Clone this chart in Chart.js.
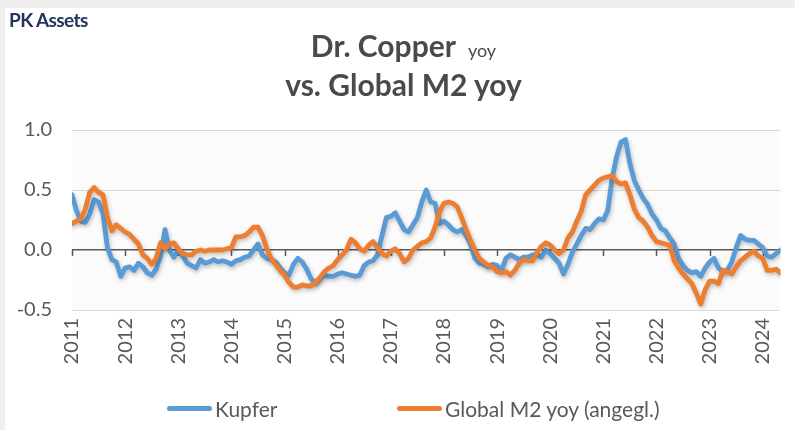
<!DOCTYPE html>
<html>
<head>
<meta charset="utf-8">
<script src="https://cdn.jsdelivr.net/npm/chart.js@4.4.1/dist/chart.umd.min.js"></script>
<style>
  html, body { margin: 0; padding: 0; background: #efefef; }
  #wrap { position: relative; width: 795px; height: 430px; overflow: hidden; background: #efefef; }
  #panel { position: absolute; left: 5px; top: 8px; right: 0; bottom: 0; background: #ffffff; }
  #chart { position: absolute; left: 0; top: 0; }
  #brand { position: absolute; left: 9px; top: 8px; font: bold 19px Lato, sans-serif; color: #25345f; letter-spacing: -0.6px; }
  .title { position: absolute; left: 6px; width: 795px; text-align: center; font: bold 30px Lato, sans-serif; color: #4a4a4a; line-height: 1.2; }
  #t1 { top: 27px; }
  #t2 { top: 66px; }
  .small { font-weight: normal; font-size: 18px; margin-left: 12px; }
  #legend { position: absolute; top: 395px; left: 0; height: 26px; font: 21px Lato, sans-serif; color: #595959; }
  .item { position: absolute; top: 0; height: 26px; display: flex; align-items: center; white-space: nowrap; }
  .bar { display: inline-block; width: 45px; height: 5px; border-radius: 3px; margin-right: 3px; }
</style>
</head>
<body>
<div id="wrap">
  <div id="panel"></div>
  <canvas id="chart" width="795" height="430"></canvas>
  <div id="brand">PK Assets</div>
  <div class="title" id="t1">Dr. Copper<span class="small">yoy</span></div>
  <div class="title" id="t2">vs. Global M2 yoy</div>
  <div id="legend"></div>
</div>
<script>
// monthly values, Jan 2011 .. May 2024
const yearLabels = ['2011', '2012', '2013', '2014', '2015', '2016', '2017',
  '2018', '2019', '2020', '2021', '2022', '2023', '2024'];

const kupfer = [
  0.46, 0.33, 0.24, 0.23, 0.30, 0.42, 0.40, 0.30, 0.02, -0.08, -0.10, -0.22,
  -0.15, -0.14, -0.17, -0.11, -0.14, -0.19, -0.21, -0.16, -0.05, 0.17, 0.00, -0.06,
  0.00, -0.05, -0.11, -0.13, -0.15, -0.08, -0.11, -0.10, -0.08, -0.10, -0.09, -0.10,
  -0.12, -0.09, -0.08, -0.06, -0.05, 0.00, 0.05, -0.04, -0.07, -0.08, -0.10, -0.15,
  -0.19, -0.21, -0.12, -0.07, -0.10, -0.16, -0.24, -0.28, -0.24, -0.21, -0.22, -0.22,
  -0.20, -0.19, -0.20, -0.21, -0.22, -0.21, -0.13, -0.10, -0.09, -0.04, 0.12, 0.27,
  0.28, 0.31, 0.24, 0.17, 0.15, 0.21, 0.27, 0.40, 0.50, 0.40, 0.39, 0.22,
  0.24, 0.21, 0.17, 0.15, 0.17, 0.12, 0.05, -0.07, -0.11, -0.12, -0.14, -0.12,
  -0.13, -0.17, -0.07, -0.04, -0.06, -0.08, -0.06, -0.06, -0.04, -0.04, -0.06, 0.00,
  -0.03, -0.07, -0.11, -0.20, -0.12, -0.02, 0.05, 0.12, 0.18, 0.17, 0.22, 0.26,
  0.25, 0.33, 0.60, 0.78, 0.90, 0.92, 0.72, 0.58, 0.50, 0.43, 0.38, 0.30,
  0.25, 0.18, 0.16, 0.10, 0.05, -0.07, -0.13, -0.17, -0.19, -0.18, -0.22, -0.15,
  -0.10, -0.07, -0.15, -0.18, -0.17, -0.10, 0.02, 0.12, 0.09, 0.08, 0.08, 0.05,
  0.02, -0.05, -0.06, -0.03, 0.00
];

const globalM2 = [
  0.22, 0.24, 0.26, 0.34, 0.48, 0.52, 0.48, 0.46, 0.27, 0.16, 0.21, 0.18,
  0.15, 0.13, 0.09, 0.05, -0.04, -0.07, -0.12, -0.07, 0.06, 0.01, 0.05, 0.06,
  0.01, -0.03, -0.04, -0.04, -0.01, 0.00, -0.01, 0.00, 0.00, 0.00, 0.00, 0.01,
  0.02, 0.11, 0.11, 0.12, 0.15, 0.19, 0.19, 0.12, 0.01, -0.07, -0.12, -0.17,
  -0.21, -0.27, -0.31, -0.31, -0.29, -0.30, -0.30, -0.27, -0.23, -0.18, -0.15, -0.13,
  -0.08, -0.04, 0.00, 0.09, 0.06, 0.01, -0.01, 0.04, 0.07, 0.02, -0.03, -0.05,
  -0.01, 0.01, -0.03, -0.10, -0.07, 0.00, 0.03, 0.06, 0.07, 0.10, 0.19, 0.32,
  0.39, 0.40, 0.39, 0.36, 0.27, 0.17, 0.08, 0.00, -0.07, -0.10, -0.13, -0.14,
  -0.18, -0.19, -0.18, -0.21, -0.17, -0.11, -0.08, -0.09, -0.09, -0.02, 0.03, 0.06,
  0.04, 0.00, -0.03, 0.00, 0.10, 0.15, 0.24, 0.32, 0.46, 0.50, 0.54, 0.58,
  0.60, 0.61, 0.62, 0.57, 0.55, 0.56, 0.46, 0.34, 0.27, 0.24, 0.19, 0.12,
  0.07, 0.06, 0.05, 0.04, -0.09, -0.15, -0.20, -0.24, -0.28, -0.36, -0.45, -0.33,
  -0.26, -0.26, -0.28, -0.17, -0.18, -0.20, -0.14, -0.09, -0.06, -0.03, -0.01, -0.05,
  -0.07, -0.17, -0.17, -0.16, -0.19
];

const seriesNames = ['Kupfer', 'Global M2 yoy (angegl.)'];
const seriesColors = ['#5b9bd5', '#ed7d31'];

const textColor = '#595959';
Chart.defaults.font.family = 'Lato, sans-serif';
Chart.defaults.color = textColor;

// light fill behind the plot area
const plotBg = {
  id: 'plotBg',
  beforeDraw(chart) {
    const { ctx, chartArea: a } = chart;
    ctx.save();
    ctx.fillStyle = '#fbfbfb';
    ctx.fillRect(a.left, a.top, a.right - a.left, a.bottom - a.top);
    ctx.restore();
  }
};

// small tick marks hanging off the zero line
const zeroTicks = {
  id: 'zeroTicks',
  beforeDatasetsDraw(chart) {
    const { ctx, scales: { x, y } } = chart;
    const y0 = y.getPixelForValue(0);
    ctx.save();
    ctx.strokeStyle = textColor;
    ctx.lineWidth = 1.5;
    x.ticks.forEach(t => {
      const px = Math.round(x.getPixelForValue(t.value)) + 0.5;
      ctx.beginPath();
      ctx.moveTo(px, y0);
      ctx.lineTo(px, y0 + 6);
      ctx.stroke();
    });
    ctx.restore();
  }
};

// soft shadow under the lines
const lineShadow = {
  id: 'lineShadow',
  beforeDatasetDraw(chart) {
    const ctx = chart.ctx;
    ctx.save();
    ctx.shadowColor = 'rgba(0,0,0,0.25)';
    ctx.shadowBlur = 4;
    ctx.shadowOffsetX = 1;
    ctx.shadowOffsetY = 2;
  },
  afterDatasetDraw(chart) {
    chart.ctx.restore();
  }
};

const toPoints = arr => arr.map((v, i) => ({ x: i, y: v }));

new Chart(document.getElementById('chart'), {
  type: 'line',
  data: {
    datasets: [
      {
        label: seriesNames[0],
        data: toPoints(kupfer),
        borderColor: seriesColors[0],
        backgroundColor: seriesColors[0],
        borderWidth: 4.8,
        pointRadius: 0,
        tension: 0,
        borderJoinStyle: 'round',
        borderCapStyle: 'round',
        order: 1
      },
      {
        label: seriesNames[1],
        data: toPoints(globalM2),
        borderColor: seriesColors[1],
        backgroundColor: seriesColors[1],
        borderWidth: 4.8,
        pointRadius: 0,
        tension: 0,
        borderJoinStyle: 'round',
        borderCapStyle: 'round',
        order: 0
      }
    ]
  },
  options: {
    responsive: false,
    animation: false,
    devicePixelRatio: 1,
    layout: { padding: { top: 130, right: 10, bottom: 50, left: 0 } },
    plugins: {
      legend: { display: false },
      title: { display: false },
      tooltip: { enabled: false }
    },
    scales: {
      x: {
        type: 'linear',
        min: 0,
        max: kupfer.length - 1,
        afterFit: s => { s.height = 70; },
        grid: { display: false, drawTicks: false },
        border: { display: false },
        ticks: {
          stepSize: 12,
          includeBounds: false,
          autoSkip: false,
          minRotation: 90,
          maxRotation: 90,
          padding: 8,
          color: textColor,
          font: { size: 20 },
          callback: v => yearLabels[v / 12]
        }
      },
      y: {
        min: -0.5,
        max: 1.0,
        afterFit: s => { s.width = 72; },
        border: { display: false },
        grid: {
          drawTicks: false,
          color: c => (c.tick.value === 0 ? textColor : '#d9d9d9'),
          lineWidth: c => (c.tick.value === 0 ? 1.5 : 1)
        },
        ticks: {
          stepSize: 0.5,
          padding: 20,
          color: textColor,
          font: { size: 20 },
          callback: v => v.toFixed(1)
        }
      }
    }
  },
  plugins: [plotBg, zeroTicks, lineShadow]
});

// legend as plain html, same spacing as the original
const legend = document.getElementById('legend');
const legendX = [167, 397];
seriesNames.forEach((name, i) => {
  const item = document.createElement('div');
  item.className = 'item';
  item.style.left = legendX[i] + 'px';
  const bar = document.createElement('span');
  bar.className = 'bar';
  bar.style.background = seriesColors[i];
  item.appendChild(bar);
  item.appendChild(document.createTextNode(name));
  legend.appendChild(item);
});
</script>
</body>
</html>
